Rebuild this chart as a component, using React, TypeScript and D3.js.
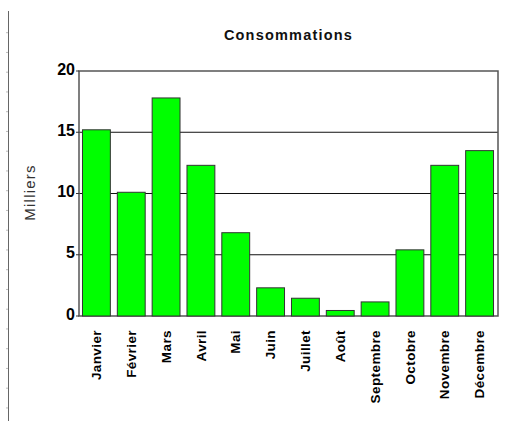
import React from "react";
import * as d3 from "d3";

const months = [
  "Janvier", "Février", "Mars", "Avril", "Mai", "Juin",
  "Juillet", "Août", "Septembre", "Octobre", "Novembre", "Décembre",
];
const consommations = [15.2, 10.1, 17.8, 12.3, 6.8, 2.3, 1.45, 0.45, 1.15, 5.4, 12.3, 13.5];
const yTicks = [0, 5, 10, 15, 20];
const title = "Consommations";
const yLabel = "Milliers";

const W = 529;
const H = 421;
const frame = { left: 79, right: 498, top: 71, bottom: 316 };

export default function App() {
  const x = d3.scaleBand<string>().domain(months).range([frame.left, frame.right - 1]).paddingInner(0.2).paddingOuter(0.1);
  const y = d3.scaleLinear().domain([0, 20]).range([frame.bottom, frame.top]);

  // decorative ruler on the left edge
  const rulerTicks = d3.range(0, 20).map((i) => 32.7 + i * 19.75);

  const font = "'Liberation Sans', Arial, sans-serif";

  return (
    <svg width={W} height={H} style={{ position: "absolute", left: 0, top: 0, background: "#fff" }}>
      <line x1={8.5} x2={8.5} y1={11} y2={H} stroke="#666" strokeWidth={1} />
      {rulerTicks.map((t, i) => (
        <line key={i} x1={6} x2={8} y1={t} y2={t} stroke="#bbb" strokeWidth={1} />
      ))}

      <text
        x={(frame.left + frame.right) / 2}
        y={40}
        textAnchor="middle"
        fontFamily={font}
        fontWeight="bold"
        fontSize={14.5}
        letterSpacing={1.2}
        fill="#111"
      >
        {title}
      </text>

      {/* gridlines */}
      {yTicks.filter((t) => t > 0 && t < 20).map((t) => (
        <line key={t} x1={frame.left} x2={frame.right} y1={y(t)} y2={y(t)} stroke="#111" strokeWidth={1} />
      ))}

      {/* frame */}
      <rect
        x={frame.left}
        y={frame.top}
        width={frame.right - frame.left}
        height={frame.bottom - frame.top}
        fill="none"
        stroke="#555"
        strokeWidth={1.5}
      />

      {/* bars */}
      {months.map((m, i) => (
        <rect
          key={m}
          x={x(m)!}
          y={y(consommations[i])}
          width={x.bandwidth()}
          height={y(0) - y(consommations[i])}
          fill="#00ff00"
          stroke="#333"
          strokeWidth={1}
        />
      ))}

      {/* y axis ticks and labels */}
      {yTicks.map((t) => (
        <g key={t}>
          <line x1={frame.left - 3} x2={frame.left} y1={y(t)} y2={y(t)} stroke="#333" />
          <text
            x={75}
            y={y(t) - 2}
            dy="0.35em"
            textAnchor="end"
            fontFamily={font}
            fontWeight="bold"
            fontSize={16}
            fill="#000"
          >
            {t}
          </text>
        </g>
      ))}

      <text
        transform={`translate(30, ${(frame.top + frame.bottom) / 2 - 1}) rotate(-90)`}
        textAnchor="middle"
        dy="0.35em"
        fontFamily={font}
        fontSize={15}
        letterSpacing={1.2}
        fill="#333"
      >
        {yLabel}
      </text>

      {/* month labels */}
      {months.map((m) => (
        <text
          key={m}
          transform={`translate(${x(m)! + x.bandwidth() / 2}, 330) rotate(-90)`}
          textAnchor="end"
          dy="0.35em"
          fontFamily={font}
          fontWeight="bold"
          fontSize={13.5}
          letterSpacing={0.4}
          fill="#000"
        >
          {m}
        </text>
      ))}
    </svg>
  );
}
